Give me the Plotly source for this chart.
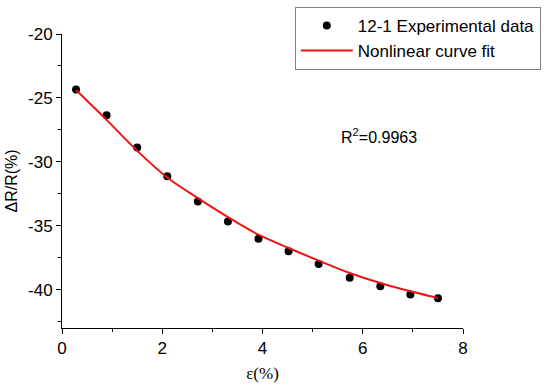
import plotly.graph_objects as go

strain = [0.28, 0.89, 1.50, 2.10, 2.71, 3.31, 3.92, 4.52, 5.12, 5.74, 6.35, 6.95, 7.50]
resist = [-24.35, -26.35, -28.88, -31.12, -33.10, -34.66, -36.02, -37.00, -37.99, -39.06, -39.74, -40.37, -40.68]

fit_x = [0.28, 0.89, 1.50, 2.10, 2.71, 3.31, 3.92, 4.52, 5.12, 5.74, 6.35, 6.95, 7.50]
fit_y = [-24.38, -26.72, -29.14, -31.23, -32.84, -34.32, -35.70, -36.74, -37.73, -38.70, -39.48, -40.13, -40.65]

x_ticks = [0, 2, 4, 6, 8]
y_ticks = [-20, -25, -30, -35, -40]
y_ticklabels = ["-20", "-25", "-30", "-35", "-40"]

sans = "Liberation Sans, Arial, sans-serif"
serif = "Liberation Serif, Times New Roman, serif"

fig = go.Figure()
fig.add_trace(go.Scatter(x=strain, y=resist, mode="markers", name="12-1 Experimental data",
                         marker=dict(color="black", size=8, symbol="circle")))
fig.add_trace(go.Scatter(x=fit_x, y=fit_y, mode="lines", name="Nonlinear curve fit",
                         line=dict(color="rgb(235,20,20)", width=2, shape="spline")))

axis_common = dict(showgrid=False, zeroline=False, showline=True, linecolor="black", linewidth=1,
                   ticks="outside", ticklen=5, tickwidth=1, tickcolor="black",
                   tickfont=dict(family=sans, size=17, color="black"))

fig.update_xaxes(range=[0, 8], tickvals=x_ticks, **axis_common,
                 minor=dict(tickvals=[1, 3, 5, 7], ticklen=3, ticks="outside", tickcolor="black"),
                 title=dict(text="ε(%)", font=dict(family=serif, size=17, color="black"), standoff=9))
fig.update_yaxes(range=[-43, -20], tickvals=y_ticks, ticktext=y_ticklabels, **axis_common,
                 minor=dict(tickvals=[-22.5, -27.5, -32.5, -37.5, -42.5], ticklen=3, ticks="outside", tickcolor="black"),
                 title=dict(text="ΔR/R(%)", font=dict(family=sans, size=16, color="black"), standoff=6))

fig.add_annotation(x=5.53, y=-27.95, xref="x", yref="y", xanchor="left", yanchor="middle",
                   text="R<sup>2</sup>=0.9963", showarrow=False,
                   font=dict(family=sans, size=16, color="black"))

fig.update_layout(
    width=550, height=389,
    margin=dict(l=62, r=87, t=34, b=61, autoexpand=False),
    plot_bgcolor="white", paper_bgcolor="white",
    legend=dict(x=1.194, y=1.092, xanchor="right", yanchor="top",
                bordercolor="rgb(130,130,130)", borderwidth=1, bgcolor="white",
                font=dict(family=sans, size=17, color="black"),
                tracegroupgap=0, itemwidth=52),
)

fig.write_html("out.html", config={"displayModeBar": False},
               post_script="document.body.style.margin='0';document.body.style.overflow='hidden';")
